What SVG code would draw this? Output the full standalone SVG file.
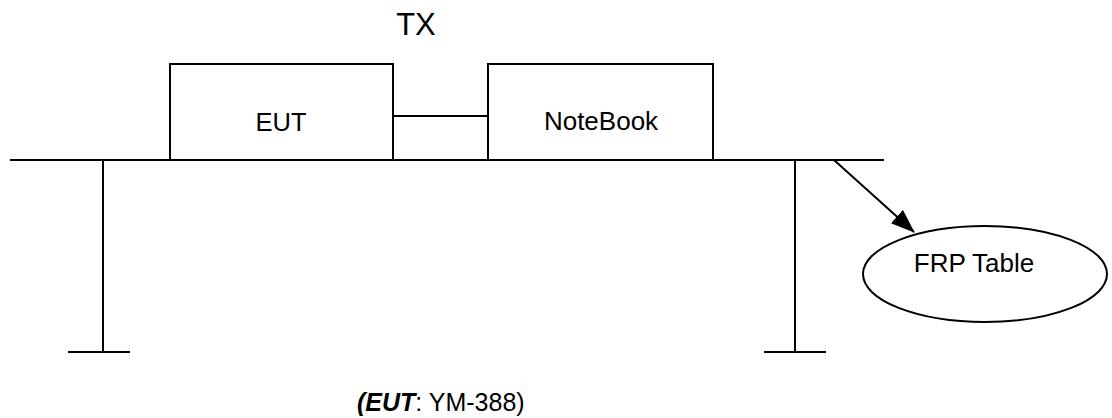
<svg xmlns="http://www.w3.org/2000/svg" width="1112" height="418" viewBox="0 0 1112 418">
<style>
.s{stroke:#000;stroke-width:2;fill:none}
.b{stroke:#000;stroke-width:2;fill:#fff}
.t{font-family:"Liberation Sans",Arial,sans-serif;font-size:26px;fill:#000}
</style>
<defs>
<marker id="ah" markerWidth="24" markerHeight="18" refX="23" refY="9" orient="auto" markerUnits="userSpaceOnUse" viewBox="0 0 24 18">
<path d="M0,0 L24,9 L0,18 z" fill="#000"/>
</marker>
</defs>
<rect width="1112" height="418" fill="#fff"/>
<text class="t" x="416" y="35" text-anchor="middle" style="font-size:31px">TX</text>
<g id="table">
<line class="s" x1="10" y1="160" x2="884" y2="160"/>
<line class="s" x1="103" y1="160" x2="103" y2="352"/>
<line class="s" x1="68" y1="352" x2="130" y2="352"/>
<line class="s" x1="795" y1="160" x2="795" y2="352"/>
<line class="s" x1="764" y1="352" x2="826" y2="352"/>
</g>
<g id="eut">
<rect class="b" x="170" y="64" width="223" height="96"/>
<text class="t" x="281" y="131" text-anchor="middle" style="font-size:25.5px">EUT</text>
</g>
<g id="notebook">
<rect class="b" x="488" y="64" width="225" height="96"/>
<text class="t" x="601" y="130" text-anchor="middle">NoteBook</text>
</g>
<g id="frp">
<ellipse class="b" cx="985" cy="274" rx="122" ry="48"/>
<text class="t" x="974" y="272" text-anchor="middle">FRP Table</text>
</g>
<g id="connectors">
<line class="s" x1="393" y1="116" x2="488" y2="116"/>
<line class="s" x1="834" y1="160" x2="914" y2="232" marker-end="url(#ah)"/>
</g>
<text class="t" x="357" y="411" style="font-size:25px"><tspan font-weight="bold" font-style="italic">(EUT</tspan>: YM-388)</text>
</svg>
